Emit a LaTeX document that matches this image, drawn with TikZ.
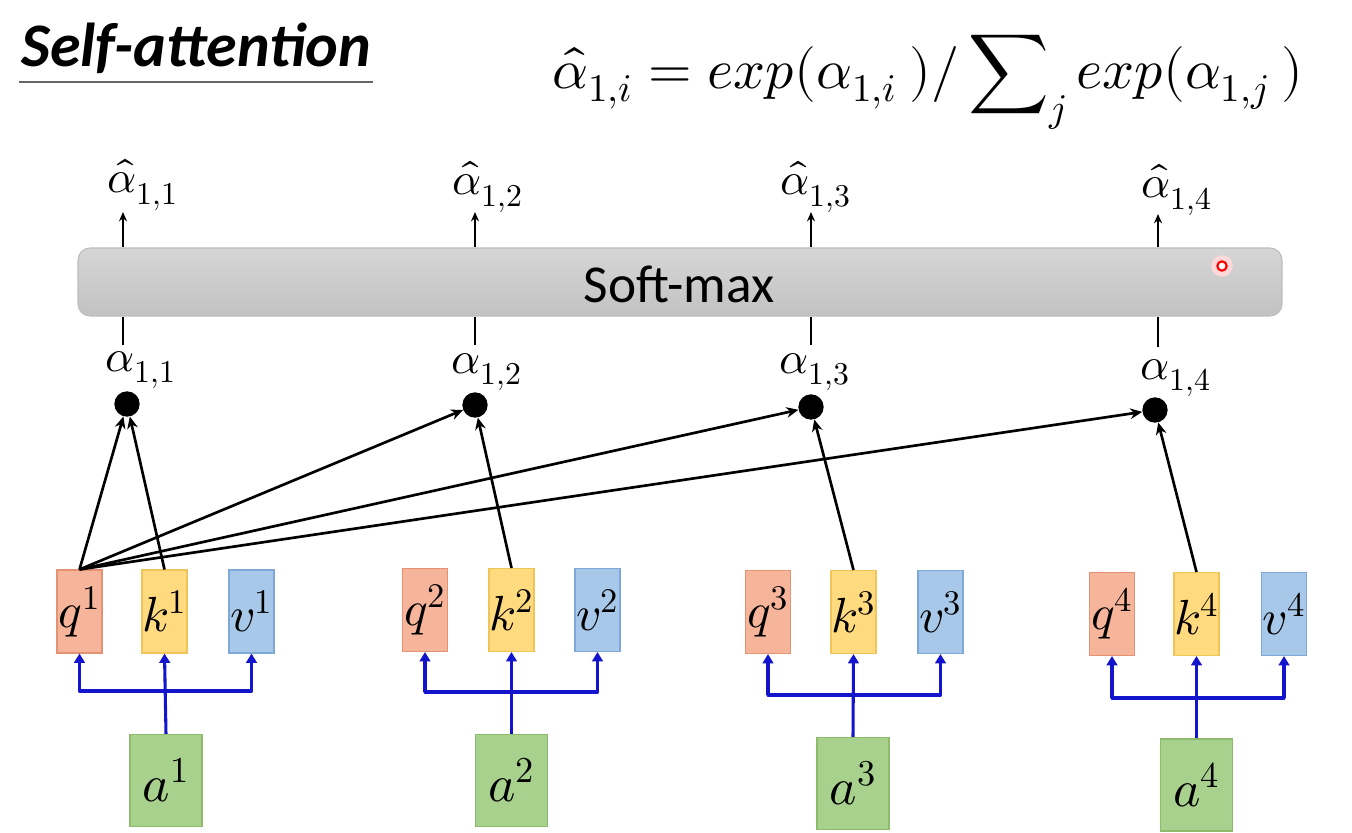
\documentclass[tikz,border=0pt]{standalone}
\usepackage{fontspec}
\usepackage{unicode-math}
\setmainfont{Carlito}
\setmathfont{Latin Modern Math}
\usetikzlibrary{arrows.meta,shadings}
\definecolor{qfill}{HTML}{F6B49B}
\definecolor{qdraw}{HTML}{E59272}
\definecolor{kfill}{HTML}{FFDA7E}
\definecolor{kdraw}{HTML}{F1C45A}
\definecolor{vfill}{HTML}{A8C8EA}
\definecolor{vdraw}{HTML}{7EA8D8}
\definecolor{afill}{HTML}{A9D18E}
\definecolor{adraw}{HTML}{8CBB6C}
\definecolor{linkblue}{HTML}{1414CC}
\definecolor{smtop}{HTML}{D6D6D6}
\definecolor{smbot}{HTML}{C2C2C2}
\definecolor{smdraw}{HTML}{BDBDBD}
\tikzset{
  vecbox/.style={rectangle, minimum width=33.75pt, minimum height=62.25pt, inner sep=0pt, line width=0.8pt, font=\fontsize{37}{40}\selectfont},
  qbox/.style={vecbox, fill=qfill, draw=qdraw},
  kbox/.style={vecbox, fill=kfill, draw=kdraw},
  vbox/.style={vecbox, fill=vfill, draw=vdraw},
  abox/.style={rectangle, minimum width=54pt, minimum height=69pt, inner sep=0pt, line width=0.8pt, fill=afill, draw=adraw, font=\fontsize{39}{42}\selectfont},
  dotnode/.style={circle, fill=black, minimum size=19pt, inner sep=0pt},
  lbl/.style={inner sep=0pt, font=\fontsize{34}{38}\selectfont},
  blk/.style={line width=2pt, black, -{Stealth[length=9pt,width=8pt]}},
  bluelink/.style={line width=2.3pt, linkblue, -{Triangle[length=7pt,width=8pt]}},
  bluebus/.style={line width=2.3pt, linkblue},
  tick/.style={line width=1.6pt, black},
  tickarrow/.style={line width=1.6pt, black, -{Stealth[length=7pt,width=6pt]}},
}
\begin{document}
\begin{tikzpicture}[x=0.75pt, y=-0.75pt]
\useasboundingbox (0,0) rectangle (1352,832);
% title
\node[anchor=base west, inner sep=0pt, font=\fontsize{46.5}{52}\selectfont\bfseries\itshape] (title) at (21,66) {Self-attention};
\coordinate (ulL) at (19,82);
\coordinate (ulR) at (373,82);
\draw[line width=1.6pt, black!60] (ulL) -- (ulR);
% formula
\node[inner sep=0pt, anchor=west, font=\fontsize{42}{48}\selectfont] (formula) at (552,82)
  {$\hat{\alpha}_{1,i} = exp(\alpha_{1,i}\ )/\displaystyle\sum\nolimits_j exp(\alpha_{1,j}\ )$};
% softmax box
\node[rectangle, rounded corners=9pt, minimum width=903pt, minimum height=51pt, top color=smtop, bottom color=smbot, draw=smdraw, line width=0.8pt, inner sep=0pt] (sm) at (680,282) {};
\node[inner sep=0pt, font=\fontsize{40}{46}\selectfont] (smtext) at (679,284) {Soft-max};
% laser pointer dot
\node[circle, fill=red!15, minimum size=16pt, inner sep=0pt] (glow) at (1222,266) {};
\node[circle, draw=red, line width=1.6pt, fill=white, minimum size=7pt, inner sep=0pt] (laser) at (1222,266) {};
% x positions of columns
\coordinate (x1) at (123,0);
\coordinate (x2) at (475,0);
\coordinate (x3) at (811,0);
\coordinate (x4) at (1158,0);
% hat labels
\node[lbl] (h1) at (143,185) {$\hat{\alpha}_{1,1}$};
\node[lbl] (h2) at (488,187) {$\hat{\alpha}_{1,2}$};
\node[lbl] (h3) at (816,187) {$\hat{\alpha}_{1,3}$};
\node[lbl] (h4) at (1177,190) {$\hat{\alpha}_{1,4}$};
% alpha labels
\node[lbl] (l1) at (141,370) {$\alpha_{1,1}$};
\node[lbl] (l2) at (487,372) {$\alpha_{1,2}$};
\node[lbl] (l3) at (815,372) {$\alpha_{1,3}$};
\node[lbl] (l4) at (1176,378) {$\alpha_{1,4}$};
% arrows above softmax
\coordinate (t1) at (123,212);
\coordinate (t2) at (475,212);
\coordinate (t3) at (811,212);
\coordinate (t4) at (1158,214);
\foreach \i in {1,2,3,4} {
  \draw[tickarrow] (sm.north -| x\i) -- (t\i);
}
% lines below softmax
\coordinate (b1) at (123,345);
\coordinate (b2) at (475,345);
\coordinate (b3) at (811,345);
\coordinate (b4) at (1158,347);
\foreach \i in {1,2,3,4} {
  \draw[tick] (b\i) -- (sm.south -| x\i);
}
% dots
\node[dotnode] (d1) at (127,404) {};
\node[dotnode] (d2) at (475,405) {};
\node[dotnode] (d3) at (811,407) {};
\node[dotnode] (d4) at (1155,410) {};
% q k v boxes
\node[qbox] (q1) at (79.5,611.5) {$q^1$};
\node[kbox] (k1) at (164.5,611.5) {$k^1$};
\node[vbox] (v1) at (251.5,611.5) {$v^1$};
\node[qbox] (q2) at (425,610) {$q^2$};
\node[kbox] (k2) at (511.5,610) {$k^2$};
\node[vbox] (v2) at (597.5,610) {$v^2$};
\node[qbox] (q3) at (768,612) {$q^3$};
\node[kbox] (k3) at (853.5,612) {$k^3$};
\node[vbox] (v3) at (940.5,612) {$v^3$};
\node[qbox] (q4) at (1112,614) {$q^4$};
\node[kbox] (k4) at (1196.5,614) {$k^4$};
\node[vbox] (v4) at (1284,614) {$v^4$};
% a boxes
\node[abox] (a1) at (166,780.5) {$a^1$};
\node[abox] (a2) at (511.5,780.5) {$a^2$};
\node[abox] (a3) at (853,783.5) {$a^3$};
\node[abox] (a4) at (1196.5,785) {$a^4$};
% horizontal bus levels
\coordinate (y1) at (0,691);
\coordinate (y2) at (0,692);
\coordinate (y3) at (0,695);
\coordinate (y4) at (0,698);
\foreach \i in {1,2,3,4} {
  \draw[bluelink] (a\i.north) -- (k\i.south);
  \draw[bluebus, line cap=round] (q\i.south |- y\i) -- (v\i.south |- y\i);
  \draw[bluelink] (q\i.south |- y\i) -- (q\i.south);
  \draw[bluelink] (v\i.south |- y\i) -- (v\i.south);
}
% black attention arrows
\draw[blk] (q1.north) -- (d1);
\draw[blk] (k1.north) -- (d1);
\draw[blk] (q1.north) -- (d2);
\draw[blk] (q1.north) -- (d3);
\draw[blk] (q1.north) -- (d4);
\draw[blk] (k2.north) -- (d2);
\draw[blk] (k3.north) -- (d3);
\draw[blk] (k4.north) -- (d4);
\end{tikzpicture}
\end{document}
